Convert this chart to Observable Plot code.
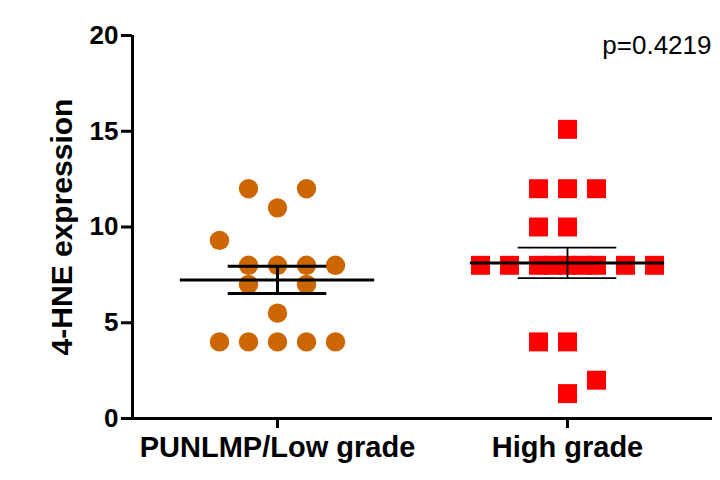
<!DOCTYPE html>
<html>
<head>
<meta charset="utf-8">
<script src="https://cdn.jsdelivr.net/npm/d3@7"></script>
<script src="https://cdn.jsdelivr.net/npm/@observablehq/plot@0.6"></script>
<style>
  html, body { margin: 0; padding: 0; background: white; }
</style>
</head>
<body>
<div id="chart"></div>
<script>
// ---- data ----
const groups = ["PUNLMP/Low grade", "High grade"];
const lowValues = [12, 12, 11, 9.3, 8, 8, 8, 8, 7, 7, 5.5, 4, 4, 4, 4, 4];
const lowSlots  = [-1, 1, 0, -2, -1, 0, 1, 2, -1, 1, 0, -2, -1, 0, 1, 2];
const highValues = [15.1, 12, 12, 12, 10, 10, 8, 8, 8, 8, 8, 8, 8, 8, 8, 4, 4, 2, 1.3];
const highSlots  = [0, -1, 0, 1, -1, 0, -3, -2, -1, -0.5, 0, 0.5, 1, 2, 3, -1, 0, 1, 0];
const yTicks = [0, 5, 10, 15, 20];
const yLabel = "4-HNE expression";
const pLabel = "p=0.4219";
const colors = ["#CC6600", "#FF0000"];

// ---- derived tables ----
const slotStep = 0.1;
const lowPoints = lowValues.map((v, i) => ({group: groups[0], value: v, x: 0.5 + lowSlots[i] * slotStep}));
const highPoints = highValues.map((v, i) => ({group: groups[1], value: v, x: 1.5 + highSlots[i] * slotStep}));

const stats = [lowValues, highValues].map((vals, gi) => {
  const m = d3.mean(vals);
  const sem = d3.deviation(vals) / Math.sqrt(vals.length);
  return {group: groups[gi], c: gi + 0.5, mean: m, lo: m - sem, hi: m + sem, w: gi === 0 ? 3 : 1.8};
});

const meanHalf = 0.335, capHalf = 0.17;

const chart = Plot.plot({
  width: 720,
  height: 480,
  marginLeft: 132,
  marginRight: 8,
  marginTop: 35,
  marginBottom: 62,
  style: {fontFamily: "'Liberation Sans', Arial, sans-serif", background: "white", color: "black"},
  x: {domain: [0, 2], axis: null},
  y: {domain: [0, 20], axis: null},
  marks: [
    Plot.dot(lowPoints, {x: "x", y: "value", symbol: "circle", fill: colors[0], r: 9.7, stroke: "none"}),
    Plot.dot(highPoints, {x: "x", y: "value", symbol: "square", fill: colors[1], r: 10.7, stroke: "none"}),
    Plot.ruleY(stats, {y: "mean", x1: d => d.c - meanHalf, x2: d => d.c + meanHalf, stroke: "black", strokeWidth: 3}),
    Plot.ruleY(stats.slice(0, 1), {y: "hi", x1: d => d.c - capHalf, x2: d => d.c + capHalf, stroke: "black", strokeWidth: 3}),
    Plot.ruleY(stats.slice(0, 1), {y: "lo", x1: d => d.c - capHalf, x2: d => d.c + capHalf, stroke: "black", strokeWidth: 3}),
    Plot.ruleX(stats.slice(0, 1), {x: "c", y1: "lo", y2: "hi", stroke: "black", strokeWidth: 3}),
    Plot.ruleY(stats.slice(1), {y: "hi", x1: d => d.c - capHalf, x2: d => d.c + capHalf, stroke: "black", strokeWidth: 1.8}),
    Plot.ruleY(stats.slice(1), {y: "lo", x1: d => d.c - capHalf, x2: d => d.c + capHalf, stroke: "black", strokeWidth: 1.8}),
    Plot.ruleX(stats.slice(1), {x: "c", y1: "lo", y2: "hi", stroke: "black", strokeWidth: 1.8}),
    Plot.axisY({ticks: yTicks, tickSize: 11, tickPadding: 3, strokeWidth: 3, fontSize: 26, fontWeight: "bold", label: null}),
    Plot.axisX({ticks: [0.5, 1.5], tickFormat: d => groups[Math.round(d - 0.5)], tickSize: 10, tickPadding: 8, strokeWidth: 3, fontSize: 29, fontWeight: "bold", label: null}),
    Plot.ruleX([0], {stroke: "black", strokeWidth: 3}),
    Plot.ruleY([0], {stroke: "black", strokeWidth: 3}),
    Plot.text([yLabel], {frameAnchor: "left", textAnchor: "middle", lineAnchor: "middle", rotate: -90, dx: -70, fontSize: 30, fontWeight: "bold", fill: "black"}),
    Plot.text([pLabel], {frameAnchor: "top-right", textAnchor: "end", lineAnchor: "top", dx: -1, dy: 0, fontSize: 26, fill: "black"})
  ]
});
document.getElementById("chart").appendChild(chart);
</script>
</body>
</html>
